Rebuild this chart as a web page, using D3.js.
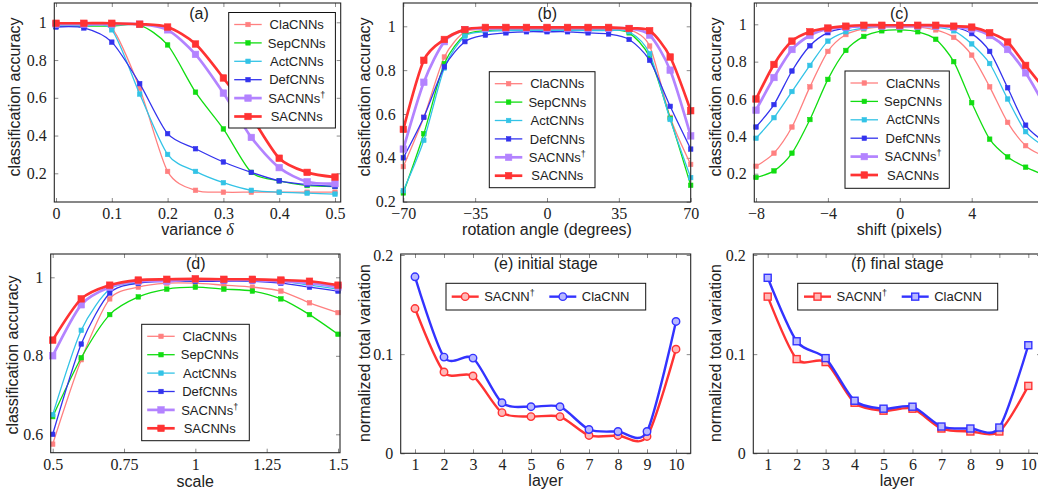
<!DOCTYPE html>
<html>
<head>
<meta charset="utf-8">
<script src="https://cdn.jsdelivr.net/npm/d3@7"></script>
<style>
  body { margin: 0; background: #fff; }
  svg { display: block; }
</style>
</head>
<body>
<svg id="chart" width="1038" height="492"></svg>
<script>
// ---- data ----
const seriesLabels = ["ClaCNNs", "SepCNNs", "ActCNNs", "DefCNNs", "SACNNs†", "SACNNs"];

const varianceX = [0, 0.05, 0.1, 0.15, 0.2, 0.25, 0.3, 0.35, 0.4, 0.45, 0.5];
const aCla  = [0.99, 0.99, 0.97, 0.65, 0.21, 0.11, 0.10, 0.10, 0.10, 0.10, 0.10];
const aSep  = [0.98, 0.98, 0.98, 0.985, 0.88, 0.63, 0.435, 0.205, 0.16, 0.135, 0.13];
const aAct  = [0.98, 0.98, 0.96, 0.62, 0.30, 0.21, 0.15, 0.11, 0.10, 0.095, 0.09];
const aDef  = [0.975, 0.97, 0.895, 0.675, 0.41, 0.33, 0.26, 0.205, 0.16, 0.14, 0.13];
const aSacD = [0.99, 0.99, 0.99, 0.99, 0.96, 0.83, 0.625, 0.39, 0.23, 0.155, 0.145];
const aSac  = [0.995, 0.995, 0.995, 0.99, 0.975, 0.885, 0.705, 0.50, 0.28, 0.205, 0.18];

const rotationX = [-70, -60, -50, -40, -30, -20, -10, 0, 10, 20, 30, 40, 50, 60, 70];
const bCla  = [0.36, 0.585, 0.86, 0.975, 0.985, 0.99, 0.99, 0.99, 0.99, 0.99, 0.99, 0.985, 0.91, 0.585, 0.37];
const bSep  = [0.24, 0.51, 0.83, 0.96, 0.98, 0.985, 0.985, 0.985, 0.985, 0.985, 0.985, 0.97, 0.86, 0.58, 0.275];
const bAct  = [0.25, 0.48, 0.81, 0.955, 0.975, 0.98, 0.98, 0.98, 0.98, 0.98, 0.98, 0.975, 0.875, 0.575, 0.31];
const bDef  = [0.40, 0.585, 0.815, 0.93, 0.96, 0.97, 0.975, 0.975, 0.975, 0.97, 0.965, 0.94, 0.845, 0.635, 0.44];
const bSacD = [0.44, 0.745, 0.93, 0.985, 0.99, 0.99, 0.99, 0.99, 0.99, 0.99, 0.99, 0.99, 0.96, 0.80, 0.50];
const bSac  = [0.53, 0.845, 0.94, 0.985, 0.995, 0.995, 0.995, 0.995, 0.995, 0.995, 0.995, 0.99, 0.98, 0.86, 0.615];

const shiftX = [-8, -7, -6, -5, -4, -3, -2, -1, 0, 1, 2, 3, 4, 5, 6, 7, 8];
const cCla  = [0.24, 0.31, 0.45, 0.665, 0.855, 0.945, 0.975, 0.985, 0.985, 0.985, 0.97, 0.93, 0.835, 0.665, 0.475, 0.35, 0.295];
const cSep  = [0.18, 0.215, 0.31, 0.49, 0.705, 0.86, 0.935, 0.965, 0.97, 0.96, 0.92, 0.80, 0.58, 0.385, 0.29, 0.235, 0.195];
const cAct  = [0.39, 0.50, 0.64, 0.78, 0.91, 0.96, 0.98, 0.99, 0.99, 0.99, 0.985, 0.965, 0.895, 0.79, 0.60, 0.425, 0.35];
const cDef  = [0.45, 0.57, 0.75, 0.885, 0.955, 0.98, 0.99, 0.995, 0.995, 0.995, 0.99, 0.985, 0.95, 0.855, 0.66, 0.46, 0.375];
const cSacD = [0.54, 0.715, 0.865, 0.94, 0.975, 0.985, 0.99, 0.99, 0.99, 0.99, 0.99, 0.985, 0.975, 0.94, 0.865, 0.74, 0.575];
const cSac  = [0.60, 0.785, 0.91, 0.96, 0.98, 0.99, 0.995, 0.995, 0.995, 0.995, 0.995, 0.99, 0.985, 0.955, 0.905, 0.78, 0.66];

const scaleX = [0.5, 0.6, 0.7, 0.8, 0.9, 1.0, 1.1, 1.2, 1.3, 1.4, 1.5];
const dCla  = [0.575, 0.79, 0.945, 0.975, 0.985, 0.985, 0.98, 0.975, 0.965, 0.935, 0.91];
const dSep  = [0.645, 0.795, 0.905, 0.95, 0.97, 0.975, 0.97, 0.965, 0.945, 0.905, 0.855];
const dAct  = [0.65, 0.865, 0.97, 0.985, 0.99, 0.99, 0.99, 0.99, 0.99, 0.98, 0.97];
const dDef  = [0.60, 0.83, 0.96, 0.985, 0.99, 0.99, 0.99, 0.99, 0.985, 0.975, 0.965];
const dSacD = [0.80, 0.93, 0.975, 0.99, 0.99, 0.995, 0.993, 0.993, 0.99, 0.985, 0.975];
const dSac  = [0.84, 0.945, 0.98, 0.993, 0.995, 0.996, 0.995, 0.995, 0.993, 0.99, 0.98];

const layerX = [1, 2, 3, 4, 5, 6, 7, 8, 9, 10];
const eSacD = [0.146, 0.082, 0.078, 0.041, 0.037, 0.037, 0.018, 0.018, 0.017, 0.105];
const eCla  = [0.178, 0.097, 0.096, 0.051, 0.047, 0.047, 0.024, 0.022, 0.022, 0.133];
const fSacD = [0.158, 0.095, 0.092, 0.051, 0.043, 0.045, 0.025, 0.022, 0.022, 0.068];
const fCla  = [0.177, 0.113, 0.096, 0.053, 0.045, 0.047, 0.027, 0.025, 0.026, 0.109];

// ---- styles ----
const seriesColors = ["#ff8080", "#11dd11", "#33c3e6", "#3333ee", "#b383ff", "#ff3333"];
const seriesWidths = [1.3, 1.3, 1.3, 1.3, 2.7, 2.7];
const markerSizes  = [4.5, 4.5, 4.5, 4.5, 6.5, 6.5];

const svg = d3.select("#chart");
const SANS = "'Liberation Sans', Arial, sans-serif";
const SERIF = "'Liberation Serif', 'Times New Roman', serif";
const fmt = d => String(d).replace("-", "\u2212");

function zip(xs, ys) { return xs.map((v, i) => [v, ys[i]]); }

function addLabel(sel, label, supSize) {
  if (label.endsWith("†")) {
    sel.append("tspan").text(label.slice(0, -1));
    sel.append("tspan").attr("dy", -5).attr("font-size", supSize).text("†");
  } else {
    sel.text(label);
  }
}

function drawMarker(g, shape, cx, cy, size, color, hollow) {
  const fill = hollow ? d3.interpolateRgb(color, "#fff")(0.65) : color;
  if (shape === "circle") {
    g.append("circle").attr("cx", cx).attr("cy", cy).attr("r", size / 2)
      .attr("fill", fill).attr("stroke", color).attr("stroke-width", 1.4);
  } else {
    g.append("rect").attr("x", cx - size / 2).attr("y", cy - size / 2)
      .attr("width", size).attr("height", size)
      .attr("fill", fill).attr("stroke", color).attr("stroke-width", hollow ? 1.4 : 0.6);
  }
}

function drawPanel(p) {
  const [bx0, bx1, by0, by1] = p.box;
  const g = svg.append("g");
  const x = d3.scaleLinear().domain(p.xDomain).range(p.xRange);
  const y = d3.scaleLinear().domain(p.yDomain).range(p.yRange);

  g.append("clipPath").attr("id", "clip-" + p.id)
    .append("rect").attr("x", bx0).attr("y", by0).attr("width", bx1 - bx0).attr("height", by1 - by0);

  // ticks on all four sides, pointing inward
  const styleAxis = a => {
    a.select(".domain").remove();
    a.selectAll(".tick line").attr("stroke", "#8a8a8a").attr("stroke-width", 1);
    a.selectAll(".tick text").attr("font-family", SERIF).attr("font-size", 16).attr("fill", "#222");
  };
  g.append("g").attr("transform", `translate(0,${by1})`)
    .call(d3.axisBottom(x).tickValues(p.xTicks).tickSize(-4).tickPadding(5.5).tickFormat(fmt)).call(styleAxis);
  g.append("g").attr("transform", `translate(0,${by0})`)
    .call(d3.axisTop(x).tickValues(p.xTicks).tickSize(-4).tickFormat("")).call(styleAxis);
  g.append("g").attr("transform", `translate(${bx0},0)`)
    .call(d3.axisLeft(y).tickValues(p.yTicks).tickSize(-4).tickPadding(7.5).tickFormat(fmt)).call(styleAxis);
  g.append("g").attr("transform", `translate(${bx1},0)`)
    .call(d3.axisRight(y).tickValues(p.yTicks).tickSize(-4).tickFormat("")).call(styleAxis);

  // series
  const line = d3.line().x(d => x(d[0])).y(d => y(d[1])).curve(d3.curveCardinal.tension(0.2));
  p.series.forEach(s => {
    const pts = zip(p.xs, s.values);
    g.append("path").attr("d", line(pts)).attr("fill", "none")
      .attr("stroke", s.color).attr("stroke-width", s.width)
      .attr("stroke-linejoin", "round").attr("clip-path", `url(#clip-${p.id})`);
    const mg = g.append("g");
    pts.forEach(d => drawMarker(mg, s.shape, x(d[0]), y(d[1]), s.size, s.color, s.hollow));
  });

  // frame
  g.append("rect").attr("x", bx0).attr("y", by0).attr("width", bx1 - bx0).attr("height", by1 - by0)
    .attr("fill", "none").attr("stroke", "#262626").attr("stroke-width", 1.1);

  // title and axis labels
  g.append("text").attr("x", p.titleX).attr("y", p.titleY).attr("text-anchor", "middle")
    .attr("font-family", SANS).attr("font-size", 16).attr("fill", "#222").text(p.title);
  const xl = g.append("text").attr("x", p.xLabelX).attr("y", p.xLabelY).attr("text-anchor", "middle")
    .attr("font-family", SANS).attr("font-size", 16).attr("fill", "#222");
  if (p.xLabelMath) {
    xl.append("tspan").text(p.xLabel + " ");
    xl.append("tspan").attr("font-family", SERIF).attr("font-style", "italic").text(p.xLabelMath);
  } else {
    xl.text(p.xLabel);
  }
  g.append("text").attr("transform", `translate(${p.yLabelX},${p.yLabelY}) rotate(-90)`)
    .attr("text-anchor", "middle").attr("font-family", SANS).attr("font-size", 16).attr("fill", "#222")
    .text(p.yLabel);

  // legend
  const L = p.legend;
  const lg = g.append("g");
  lg.append("rect").attr("x", L.x).attr("y", L.y).attr("width", L.w).attr("height", L.h)
    .attr("fill", "#fff").attr("stroke", "#111").attr("stroke-width", 1);
  if (L.vertical) {
    p.series.forEach((s, i) => {
      const ry = L.y + 12 + i * 18.4;
      lg.append("line").attr("x1", L.x + 5.5).attr("x2", L.x + 33).attr("y1", ry).attr("y2", ry)
        .attr("stroke", s.color).attr("stroke-width", s.width);
      drawMarker(lg, s.shape, L.x + 19.3, ry, s.size, s.color, s.hollow);
      const t = lg.append("text").attr("x", L.x + 68).attr("y", ry + 4.6).attr("text-anchor", "middle")
        .attr("font-family", SANS).attr("font-size", 13).attr("fill", "#222");
      addLabel(t, s.label, 9);
    });
  } else {
    const ry = L.y + L.h / 2;
    p.series.forEach((s, i) => {
      const ex = L.items[i];
      lg.append("line").attr("x1", ex).attr("x2", ex + 27).attr("y1", ry).attr("y2", ry)
        .attr("stroke", s.color).attr("stroke-width", s.width);
      drawMarker(lg, s.shape, ex + 13.5, ry, s.size, s.color, s.hollow);
      const t = lg.append("text").attr("x", ex + 32.5).attr("y", ry + 4.6)
        .attr("font-family", SANS).attr("font-size", 13).attr("fill", "#222");
      addLabel(t, s.label, 9);
    });
  }
}

function accSeries(vals) {
  return vals.map((v, i) => ({
    label: seriesLabels[i], values: v, color: seriesColors[i],
    width: seriesWidths[i], size: markerSizes[i], shape: "square", hollow: false
  }));
}

function tvSeries(vals, shape) {
  const labels = ["SACNN†", "ClaCNN"];
  const colors = ["#ff3333", "#3333ff"];
  return vals.map((v, i) => ({
    label: labels[i], values: v, color: colors[i],
    width: 2.4, size: shape === "circle" ? 7.5 : 7, shape, hollow: true
  }));
}

const accLabel = "classification accuracy";
const tvLabel = "normalized total variation";

drawPanel({
  id: "a", box: [54.3, 340.7, 3, 202],
  xDomain: [0, 0.5], xRange: [56, 335], yDomain: [0.2, 1], yRange: [173.3, 22.3],
  xTicks: [0, 0.1, 0.2, 0.3, 0.4, 0.5], yTicks: [0.2, 0.4, 0.6, 0.8, 1],
  xs: varianceX, series: accSeries([aCla, aSep, aAct, aDef, aSacD, aSac]),
  title: "(a)", titleX: 199, titleY: 18.5,
  xLabel: "variance", xLabelMath: "δ", xLabelX: 197.5, xLabelY: 235,
  yLabel: accLabel, yLabelX: 19.5, yLabelY: 97,
  legend: { vertical: true, x: 228.7, y: 12.5, w: 106.7, h: 115.5 }
});

drawPanel({
  id: "b", box: [403.3, 690.7, 3, 202],
  xDomain: [-70, 70], xRange: [403.3, 690.7], yDomain: [0.2, 1], yRange: [201.7, 26.3],
  xTicks: [-70, -35, 0, 35, 70], yTicks: [0.2, 0.4, 0.6, 0.8, 1],
  xs: rotationX, series: accSeries([bCla, bSep, bAct, bDef, bSacD, bSac]),
  title: "(b)", titleX: 547.3, titleY: 18.5,
  xLabel: "rotation angle (degrees)", xLabelX: 547, xLabelY: 235,
  yLabel: accLabel, yLabelX: 370, yLabelY: 97,
  legend: { vertical: true, x: 489.3, y: 71.7, w: 105.7, h: 116 }
});

drawPanel({
  id: "c", box: [754.3, 1045.7, 3, 202],
  xDomain: [-8, 4], xRange: [756, 971.7], yDomain: [0.2, 1], yRange: [173.7, 24.3],
  xTicks: [-8, -4, 0, 4], yTicks: [0.2, 0.4, 0.6, 0.8, 1],
  xs: shiftX, series: accSeries([cCla, cSep, cAct, cDef, cSacD, cSac]),
  title: "(c)", titleX: 899.3, titleY: 18.5,
  xLabel: "shift (pixels)", xLabelX: 899.5, xLabelY: 235,
  yLabel: accLabel, yLabelX: 721, yLabelY: 97,
  legend: { vertical: true, x: 845, y: 71, w: 104.3, h: 117.3 }
});

drawPanel({
  id: "d", box: [50.7, 340, 254, 452.7],
  xDomain: [0.5, 1.5], xRange: [52.7, 338], yDomain: [0.6, 1], yRange: [434.3, 277.3],
  xTicks: [0.5, 0.75, 1, 1.25, 1.5], yTicks: [0.6, 0.8, 1],
  xs: scaleX, series: accSeries([dCla, dSep, dAct, dDef, dSacD, dSac]),
  title: "(d)", titleX: 195.7, titleY: 268.5,
  xLabel: "scale", xLabelX: 195.3, xLabelY: 487,
  yLabel: accLabel, yLabelX: 17.5, yLabelY: 355,
  legend: { vertical: true, x: 141.7, y: 324.3, w: 107.6, h: 116.4 }
});

drawPanel({
  id: "e", box: [400.7, 690.7, 254, 453.3],
  xDomain: [1, 10], xRange: [415, 676], yDomain: [0, 0.2], yRange: [453.3, 255],
  xTicks: layerX, yTicks: [0, 0.1, 0.2],
  xs: layerX, series: tvSeries([eSacD, eCla], "circle"),
  title: "(e) initial stage", titleX: 545.7, titleY: 268.5,
  xLabel: "layer", xLabelX: 545.7, xLabelY: 486,
  yLabel: tvLabel, yLabelX: 369.5, yLabelY: 353,
  legend: { vertical: false, x: 446, y: 283.3, w: 199.7, h: 26.7, items: [451.7, 549.3] }
});

drawPanel({
  id: "f", box: [753.3, 1041, 254, 453.3],
  xDomain: [1, 10], xRange: [767.7, 1028.3], yDomain: [0, 0.2], yRange: [453.3, 255],
  xTicks: layerX, yTicks: [0, 0.1, 0.2],
  xs: layerX, series: tvSeries([fSacD, fCla], "square"),
  title: "(f) final stage", titleX: 897.3, titleY: 268.5,
  xLabel: "layer", xLabelX: 897, xLabelY: 486,
  yLabel: tvLabel, yLabelX: 721, yLabelY: 353,
  legend: { vertical: false, x: 797.7, y: 283.3, w: 200, h: 26.7, items: [804, 901.7] }
});
</script>
</body>
</html>
